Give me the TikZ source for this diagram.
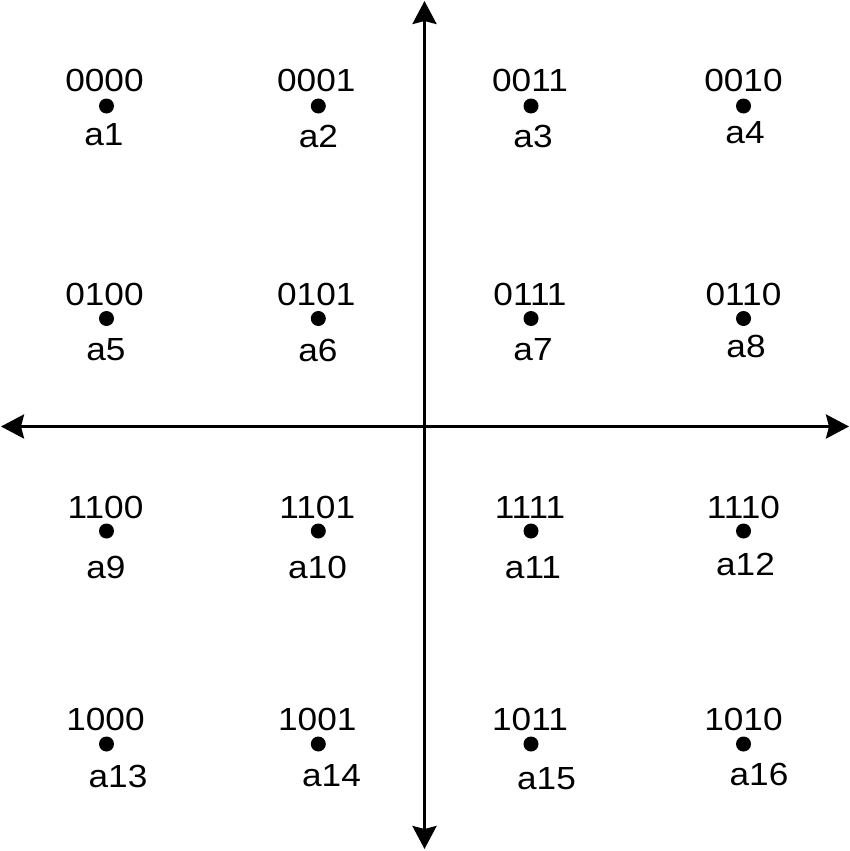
\documentclass[tikz,border=0pt]{standalone}
\usepackage{graphicx}
\usepackage{fontspec}
\setmainfont{Liberation Sans}
\usetikzlibrary{arrows.meta}

\begin{document}
\begin{tikzpicture}[x=1pt, y=-1pt, >={Stealth[length=23pt, width=24pt, inset=3pt]},
  font=\fontsize{32}{36}\selectfont,
  dot/.style={circle, fill, inner sep=0pt, minimum size=15pt},
  txt/.style={inner sep=0pt}]
  % a symbol of the constellation: name, dot at (#2,#3), bits at (#2,#4) shifted by #5, label #6 at (#7,#8)
  \newcommand{\sympt}[8]{%
    \node[dot] (#1) at (#2,#3) {};
    \node[txt] (#1b) at (#2+#5,#4) {\scalebox{1.1}[1]{#6}};
    \node[txt] (#1l) at (#7,#8) {\scalebox{1.1}[1]{#1}};
  }
  \useasboundingbox (0,0) rectangle (850,851);
  % ---------------------------------------------------------------- axes
  \coordinate (west) at (1,426.5);
  \coordinate (east) at (849,426.5);
  \coordinate (north) at (424.5,1);
  \coordinate (south) at (424.5,849);
  \draw[<->, line width=3pt] (west) -- (east);
  \draw[<->, line width=3pt] (north) -- (south);
  % ---------------------------------------------------------------- first row
  \sympt{a1}{106.5}{106}{80}{-2}{0000}{104}{135}
  \sympt{a2}{318.3}{106}{80}{-2}{0001}{318.5}{136.5}
  \sympt{a3}{531}{106}{80}{-1}{0011}{533}{136}
  \sympt{a4}{743.5}{106}{80}{0}{0010}{745}{133}
  % ---------------------------------------------------------------- second row
  \sympt{a5}{106.5}{318.5}{294}{-2}{0100}{106}{350}
  \sympt{a6}{318.3}{318.5}{294}{-2}{0101}{318}{350}
  \sympt{a7}{531}{318.5}{294}{-1}{0111}{533}{350}
  \sympt{a8}{743.5}{318.5}{294}{0}{0110}{746}{346}
  % ---------------------------------------------------------------- third row
  \sympt{a9}{106.5}{531}{507}{-1}{1100}{106}{567}
  \sympt{a10}{318.3}{531}{507}{-1}{1101}{317.5}{567}
  \sympt{a11}{531}{531}{507}{-1}{1111}{533}{567.5}
  \sympt{a12}{743.5}{531}{507}{0}{1110}{745.5}{564.5}
  % ---------------------------------------------------------------- fourth row
  \sympt{a13}{106.5}{744}{719.5}{-1}{1000}{118}{776}
  \sympt{a14}{318.3}{744}{719.5}{-1}{1001}{331.5}{776}
  \sympt{a15}{531}{744}{719.5}{-1}{1011}{546.5}{779}
  \sympt{a16}{743.5}{744}{719.5}{0}{1010}{759}{774}
\end{tikzpicture}
\end{document}
